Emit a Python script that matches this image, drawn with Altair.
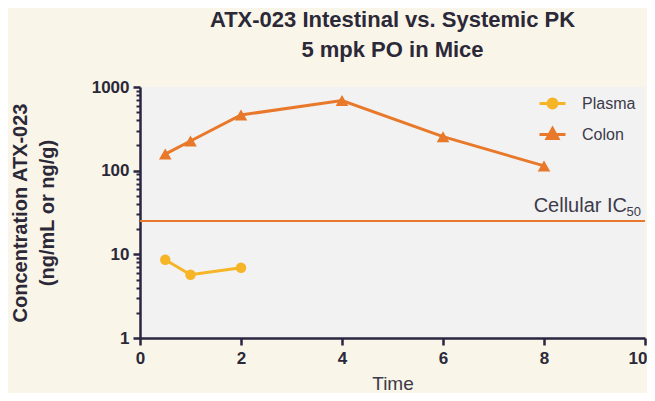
import math
import altair as alt
import pandas as pd

# ---- data ----
series_names = ["Plasma", "Colon"]
series_colors = ["#F6B526", "#E8782A"]

plasma_time = [0.5, 1, 2]
plasma_conc = [8.6, 5.7, 6.9]

colon_time = [0.5, 1, 2, 4, 6, 8]
colon_conc = [158, 226, 463, 690, 255, 114]

ic50_value = [25]
ic50_label = ["Cellular IC"]
ic50_sub = ["50"]

x_ticks = [0, 2, 4, 6, 8, 10]
x_domain = [0, 10]
y_domain = [1, 1000]
y_major = [1, 10, 100, 1000]
y_minor = [2, 3, 4, 5, 6, 7, 8, 9,
           20, 30, 40, 50, 60, 70, 80, 90,
           200, 300, 400, 500, 600, 700, 800, 900]

title_lines = ["ATX-023 Intestinal vs. Systemic PK", "5 mpk PO in Mice"]
y_title = ["Concentration ATX-023", "(ng/mL or ng/g)"]
x_title = "Time"


# legend symbols: a short line segment with the marker on it (unit-square paths)
def _poly(pts):
    return "M" + "L".join(f"{px:.3f},{py:.3f}" for px, py in pts) + "Z"


_circle = [(0.35 * math.cos(2 * math.pi * k / 16), 0.35 * math.sin(2 * math.pi * k / 16))
           for k in range(16)]
legend_paths = [
    "M-1,0L1,0" + _poly(_circle),
    "M-1,0L1,0" + _poly([(0, -0.46), (0.42, 0.31), (-0.42, 0.31)]),
]

df = pd.DataFrame({
    "time": plasma_time + colon_time,
    "conc": plasma_conc + colon_conc,
    "series": ["Plasma"] * len(plasma_time) + ["Colon"] * len(colon_time),
})
ic_df = pd.DataFrame({"conc": ic50_value, "time": [x_domain[1]],
                      "lab": ic50_label, "sub": ic50_sub})

FONT = "Liberation Sans"
INK = "#2B2838"
AXIS = "#2A2540"

xscale = alt.Scale(domain=x_domain, nice=False, zero=False)
yscale = alt.Scale(type="log", domain=y_domain, nice=False)

last_x = str(x_ticks[-1])
x_axis = alt.Axis(values=x_ticks, title=x_title, tickSize=7, tickWidth=2.5,
                  domainWidth=2.5, domainColor=AXIS, tickColor=AXIS,
                  labelFont=FONT, labelFontSize=17, labelFontWeight="bold",
                  labelColor=INK, labelPadding=5, grid=False, labelFlush=False,
                  labelAlign={"condition": {"test": f"datum.value >= {last_x}", "value": "right"},
                              "value": "center"},
                  labelOffset={"condition": {"test": f"datum.value >= {last_x}", "value": 2},
                               "value": 0},
                  titleFont=FONT, titleFontSize=19, titleFontWeight="normal",
                  titleColor="#3C3A4A", titlePadding=8)
x_enc = alt.X("time:Q", scale=xscale, axis=x_axis)

major_test = " || ".join(f"datum.value == {v}" for v in y_major)
y_axis = alt.Axis(orient="left", values=sorted(y_major + y_minor),
                  labelExpr=f"({major_test}) ? format(datum.value, 'd') : ''",
                  title=y_title,
                  tickSize={"condition": {"test": major_test, "value": 7}, "value": 4},
                  tickWidth={"condition": {"test": major_test, "value": 2.5}, "value": 2},
                  domainWidth=2.5, domainColor=AXIS, tickColor=AXIS, grid=False,
                  labelFont=FONT, labelFontSize=17, labelFontWeight="bold",
                  labelColor=INK, labelPadding=4, labelFlush=False, labelOverlap=False,
                  titleFont=FONT, titleFontSize=20, titleFontWeight="bold",
                  titleColor=INK, titleLineHeight=27, titlePadding=34)
y_enc = alt.Y("conc:Q", scale=yscale, axis=y_axis)


def series_layers(name, color, shape, size):
    base = alt.Chart(df).transform_filter(alt.datum.series == name)
    ln = base.mark_line(color=color, strokeWidth=3).encode(x=x_enc, y=y_enc)
    pt = base.mark_point(shape=shape, filled=True, size=size, opacity=1,
                         color=color).encode(x=x_enc, y=y_enc)
    return [ln, pt]


plasma_layers = series_layers(series_names[0], series_colors[0], "circle", 110)
colon_layers = series_layers(series_names[1], series_colors[1], "triangle-up", 160)

leg = alt.Legend(title=None, orient="none", legendX=398, legendY=2,
                 symbolSize=676, symbolStrokeWidth=3, symbolOpacity=1,
                 labelFont=FONT, labelFontSize=16, labelColor="#3C3A4A",
                 labelOffset=15, rowPadding=5, padding=0)

legend_layer = alt.Chart(df).mark_point(
    filled=True, strokeWidth=3, opacity=0
).encode(
    x=x_enc, y=y_enc,
    fill=alt.Fill("series:N", scale=alt.Scale(domain=series_names, range=series_colors), legend=leg),
    stroke=alt.Stroke("series:N", scale=alt.Scale(domain=series_names, range=series_colors), legend=leg),
    shape=alt.Shape("series:N", scale=alt.Scale(domain=series_names, range=legend_paths), legend=leg),
)

ic_rule = alt.Chart(ic_df).mark_rule(color="#E8782A", strokeWidth=2).encode(y=y_enc)
ic_text = alt.Chart(ic_df).mark_text(
    font=FONT, fontSize=20, color="#3C3A4A", align="right", baseline="alphabetic",
    dx=-18, dy=-9
).encode(x=x_enc, y=y_enc, text="lab:N")
ic_sub = alt.Chart(ic_df).mark_text(
    font=FONT, fontSize=13, color="#3C3A4A", align="right", baseline="alphabetic",
    dx=-4, dy=-5
).encode(x=x_enc, y=y_enc, text="sub:N")

chart = alt.layer(
    ic_rule, *plasma_layers, *colon_layers, legend_layer, ic_text, ic_sub
).properties(
    width=505, height=251,
    autosize=alt.AutoSizeParams(type="none"),
    padding={"left": 132, "top": 79, "right": 2, "bottom": 55},
    background="#F9F5E8",
    title=alt.TitleParams(text=title_lines, font=FONT, fontSize=22, fontWeight="bold",
                          color=INK, lineHeight=30, frame="group", anchor="middle",
                          offset=16),
).configure_view(fill="#F2F2F2", stroke=None)

chart.save("out.html", embed_options={"renderer": "svg", "actions": False})
